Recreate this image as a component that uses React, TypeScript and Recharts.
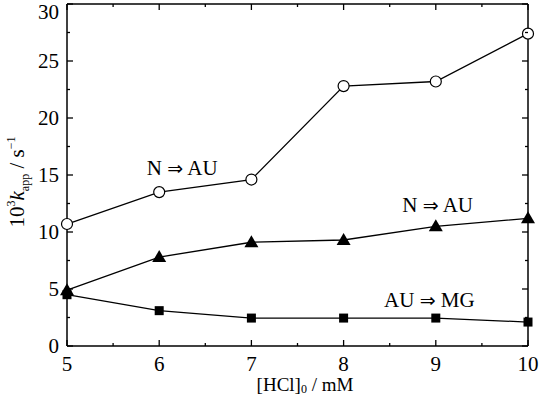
import { LineChart, Line, XAxis, YAxis, ReferenceDot, ReferenceLine } from "recharts";

const hcl = [5, 6, 7, 8, 9, 10];
const circleRates = [10.7, 13.5, 14.6, 22.8, 23.2, 27.4];
const triangleRates = [4.9, 7.8, 9.1, 9.3, 10.5, 11.2];
const squareRates = [4.5, 3.1, 2.45, 2.45, 2.45, 2.1];

const xTicks = [5, 5.5, 6, 6.5, 7, 7.5, 8, 8.5, 9, 9.5, 10];
const yTicks = [0, 2.5, 5, 7.5, 10, 12.5, 15, 17.5, 20, 22.5, 25, 27.5, 30];

const annotations = [
  { x: 6.25, y: 15.6, from: "N", to: "AU" },
  { x: 9.02, y: 12.4, from: "N", to: "AU" },
  { x: 8.93, y: 4.0, from: "AU", to: "MG" },
];

const data = hcl.map((h, i) => ({
  hcl: h,
  circle: circleRates[i],
  triangle: triangleRates[i],
  square: squareRates[i],
}));

const FONT = "'Liberation Serif', 'DejaVu Serif', serif";
const FS = 21;
const W = 542;
const H = 397;
const MARGIN = { top: 4, right: 14, bottom: 0, left: 0 };
const PLOT_TOP = MARGIN.top;
const PLOT_RIGHT = W - MARGIN.right;

const isMajor = (v: number, step: number) => Math.abs(v / step - Math.round(v / step)) < 1e-6;

// inward ticks on the bottom axis, mirrored on the top frame
function BottomTick({ x, y, payload }: any) {
  const major = isMajor(payload.value, 1);
  const len = major ? 6 : 3;
  return (
    <g>
      <line x1={x} y1={y} x2={x} y2={y - len} stroke="#000" strokeWidth={1.3} />
      <line x1={x} y1={PLOT_TOP} x2={x} y2={PLOT_TOP + len} stroke="#000" strokeWidth={1.3} />
      {major && (
        <text x={x} y={y + 25} textAnchor="middle" fontFamily={FONT} fontSize={FS} fill="#000">
          {payload.value}
        </text>
      )}
    </g>
  );
}

// inward ticks on the left axis, mirrored on the right frame
function LeftTick({ x, y, payload }: any) {
  const major = isMajor(payload.value, 5);
  const len = major ? 6 : 3;
  return (
    <g>
      <line x1={x} y1={y} x2={x + len} y2={y} stroke="#000" strokeWidth={1.3} />
      <line x1={PLOT_RIGHT} y1={y} x2={PLOT_RIGHT - len} y2={y} stroke="#000" strokeWidth={1.3} />
      {major && (
        <text x={x - 8} y={Math.max(y + 7, 19)} textAnchor="end" fontFamily={FONT} fontSize={FS} fill="#000">
          {payload.value}
        </text>
      )}
    </g>
  );
}

function CircleDot({ cx, cy }: any) {
  return <circle cx={cx} cy={cy} r={5.5} fill="#fff" stroke="#000" strokeWidth={1.2} />;
}

function TriangleDot({ cx, cy }: any) {
  return <polygon points={`${cx},${cy - 7} ${cx - 7},${cy + 5} ${cx + 7},${cy + 5}`} fill="#000" />;
}

function SquareDot({ cx, cy }: any) {
  return <rect x={cx - 4.5} y={cy - 4.5} width={9} height={9} fill="#000" />;
}

function YLabel() {
  return (
    <text
      transform="translate(24,182) rotate(-90)"
      textAnchor="middle"
      fontFamily={FONT}
      fontSize={FS}
      fill="#000"
    >
      <tspan>10</tspan>
      <tspan fontSize={12} dy={-9}>3</tspan>
      <tspan fontStyle="italic" dy={9}>k</tspan>
      <tspan fontSize={12} dy={5}>app</tspan>
      <tspan dy={-5}> / s</tspan>
      <tspan fontSize={12} dy={-9}>{"\u22121"}</tspan>
    </text>
  );
}

function XLabel() {
  return (
    <text x={305} y={391} textAnchor="middle" fontFamily={FONT} fontSize={19} fill="#000">
      <tspan>[HCl]</tspan>
      <tspan fontSize={12} dy={2}>0</tspan>
      <tspan dy={-2}> / mM</tspan>
    </text>
  );
}

function AnnotationLabel({ viewBox, from, to }: any) {
  const cx = viewBox.x + (viewBox.width || 0) / 2;
  const cy = viewBox.y + (viewBox.height || 0) / 2;
  return (
    <text x={cx} y={cy + 7} textAnchor="middle" fontFamily={FONT} fontSize={FS} fill="#000">
      <tspan>{from} </tspan>
      <tspan fontFamily="'DejaVu Sans', sans-serif" fontSize={19}>{"\u21D2"}</tspan>
      <tspan> {to}</tspan>
    </text>
  );
}

const axisLine = { stroke: "#000", strokeWidth: 1.5 };

export default function App() {
  return (
    <div style={{ width: W, height: H, background: "#fff" }}>
      <style>{`body{margin:0}`}</style>
      <LineChart width={W} height={H} data={data} margin={MARGIN}>
        <XAxis
          xAxisId="bottom"
          dataKey="hcl"
          type="number"
          domain={[5, 10]}
          ticks={xTicks}
          interval={0}
          height={51}
          tickSize={0}
          tickMargin={0}
          tickLine={false}
          axisLine={axisLine}
          tick={<BottomTick />}
          label={<XLabel />}
        />
        <YAxis
          yAxisId="left"
          type="number"
          domain={[0, 30]}
          ticks={yTicks}
          interval={0}
          width={67}
          tickSize={0}
          tickMargin={0}
          tickLine={false}
          axisLine={axisLine}
          tick={<LeftTick />}
          label={<YLabel />}
        />
        <ReferenceLine xAxisId="bottom" yAxisId="left" y={30} stroke="#000" strokeWidth={1.5} />
        <ReferenceLine xAxisId="bottom" yAxisId="left" x={10} stroke="#000" strokeWidth={1.5} />
        <Line
          xAxisId="bottom"
          yAxisId="left"
          dataKey="circle"
          stroke="#000"
          strokeWidth={1.3}
          dot={<CircleDot />}
          activeDot={false}
          isAnimationActive={false}
        />
        <Line
          xAxisId="bottom"
          yAxisId="left"
          dataKey="triangle"
          stroke="#000"
          strokeWidth={1.3}
          dot={<TriangleDot />}
          activeDot={false}
          isAnimationActive={false}
        />
        <Line
          xAxisId="bottom"
          yAxisId="left"
          dataKey="square"
          stroke="#000"
          strokeWidth={1.3}
          dot={<SquareDot />}
          activeDot={false}
          isAnimationActive={false}
        />
        {annotations.map((a, i) => (
          <ReferenceDot
            key={i}
            xAxisId="bottom"
            yAxisId="left"
            x={a.x}
            y={a.y}
            r={0}
            fill="none"
            stroke="none"
            label={<AnnotationLabel from={a.from} to={a.to} />}
          />
        ))}
      </LineChart>
    </div>
  );
}
